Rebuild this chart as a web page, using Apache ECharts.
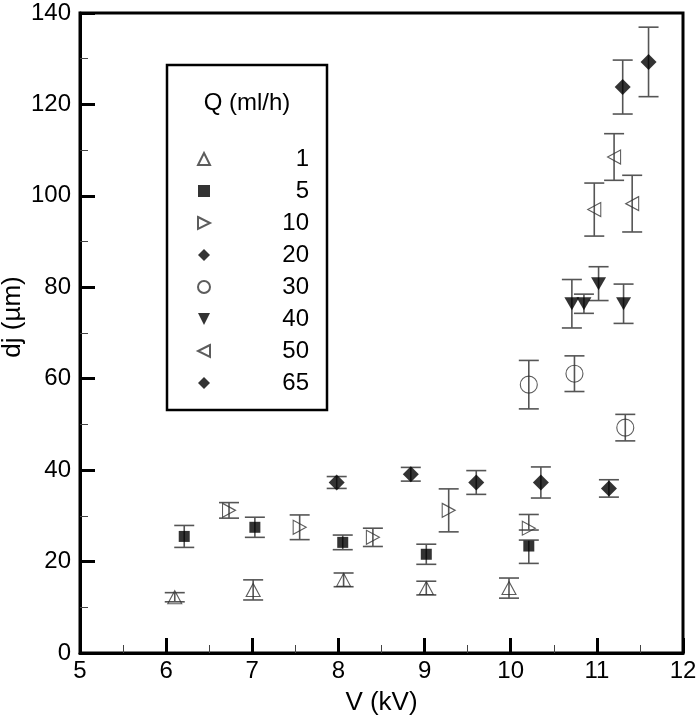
<!DOCTYPE html>
<html><head><meta charset="utf-8">
<script src="https://cdn.jsdelivr.net/npm/echarts@6/dist/echarts.min.js"></script>
<style>html,body{margin:0;padding:0;background:#fff}#c{width:700px;height:725px}</style>
</head><body><div id="c"></div>
<script>
// Q = 1 ml/h
const q1V = [6.10, 7.01, 8.06, 9.02, 9.98];
const q1D = [12.2, 13.8, 16.0, 14.2, 14.2];
const q1E = [1.0, 2.2, 1.5, 1.5, 2.2];
// Q = 5 ml/h
const q5V = [6.21, 7.03, 8.05, 9.02, 10.21];
const q5D = [25.5, 27.5, 24.2, 21.6, 23.4];
const q5E = [2.4, 2.2, 1.6, 2.2, [3.8, 1.3]];
// Q = 10 ml/h
const q10V = [6.73, 7.55, 8.40, 9.28, 10.21];
const q10D = [31.2, 27.5, 25.3, 31.2, 27.3];
const q10E = [1.7, 2.7, 2.0, 4.7, [0.4, 3.0]];
// Q = 20 ml/h
const q20V = [7.98, 8.84, 9.60, 10.35, 11.14];
const q20D = [37.3, 39.1, 37.3, 37.3, 36.0];
const q20E = [1.3, 1.5, 2.6, 3.4, 1.9];
// Q = 30 ml/h
const q30V = [10.21, 10.74, 11.33];
const q30D = [58.7, 61.1, 49.3];
const q30E = [5.3, 3.9, 2.9];
// Q = 40 ml/h
const q40V = [10.71, 10.85, 11.02, 11.31];
const q40D = [76.4, 76.4, 80.8, 76.4];
const q40E = [5.3, 2.1, 3.7, 4.3];
// Q = 50 ml/h
const q50V = [10.97, 11.20, 11.41];
const q50D = [97.0, 108.5, 98.3];
const q50E = [5.8, 5.1, 6.2];
// Q = 65 ml/h
const q65V = [11.30, 11.60];
const q65D = [123.8, 129.3];
const q65E = [5.9, 7.6];

const xTicks = [5, 6, 7, 8, 9, 10, 11, 12];
const yTicks = [0, 20, 40, 60, 80, 100, 120, 140];
const legendTitle = 'Q (ml/h)';
const xName = 'V (kV)';
const yName = 'dj (µm)';

const FONT = '"Liberation Sans", Arial, sans-serif';
const FS = 24;
const NFS = 26;
const TRI_UP = 'path://M5,0 L10,10 L0,10 Z';
const TRI_DOWN = 'path://M0,0 L10,0 L5,10 Z';
const TRI_RIGHT = 'path://M0,0 L10,5 L0,10 Z';
const TRI_LEFT = 'path://M10,0 L0,5 L10,10 Z';

const groups = [
  {name: '1',  v: q1V,  d: q1D,  e: q1E,  symbol: TRI_UP,    size: [14, 13], hollow: true},
  {name: '5',  v: q5V,  d: q5D,  e: q5E,  symbol: 'rect',    size: 11, hollow: false},
  {name: '10', v: q10V, d: q10D, e: q10E, symbol: TRI_RIGHT, size: [13, 14], hollow: true},
  {name: '20', v: q20V, d: q20D, e: q20E, symbol: 'diamond', size: 16, hollow: false},
  {name: '30', v: q30V, d: q30D, e: q30E, symbol: 'circle',  size: 17, hollow: true},
  {name: '40', v: q40V, d: q40D, e: q40E, symbol: TRI_DOWN,  size: [15, 13], hollow: false},
  {name: '50', v: q50V, d: q50D, e: q50E, symbol: TRI_LEFT,  size: [13, 14], hollow: true},
  {name: '65', v: q65V, d: q65D, e: q65E, symbol: 'diamond', size: 16, hollow: false}
];

const series = [];
groups.forEach(function (g) {
  const errData = g.v.map(function (x, i) {
    const e = g.e[i];
    const lo = Array.isArray(e) ? e[0] : e;
    const hi = Array.isArray(e) ? e[1] : e;
    return [x, g.d[i], g.d[i] - lo, g.d[i] + hi];
  });
  series.push({
    type: 'custom',
    name: g.name + '_err',
    z: 2,
    silent: true,
    data: errData,
    renderItem: function (params, api) {
      const x = api.value(0);
      const lo = api.coord([x, api.value(2)]);
      const hi = api.coord([x, api.value(3)]);
      const w = 10;
      const st = {stroke: '#555', lineWidth: 1.6};
      return {
        type: 'group',
        children: [
          {type: 'line', shape: {x1: lo[0], y1: lo[1], x2: hi[0], y2: hi[1]}, style: st},
          {type: 'line', shape: {x1: lo[0] - w, y1: lo[1], x2: lo[0] + w, y2: lo[1]}, style: st},
          {type: 'line', shape: {x1: hi[0] - w, y1: hi[1], x2: hi[0] + w, y2: hi[1]}, style: st}
        ]
      };
    }
  });
  series.push({
    type: 'scatter',
    name: g.name,
    z: 3,
    symbol: g.symbol,
    symbolSize: g.size,
    data: g.v.map(function (x, i) { return [x, g.d[i]]; }),
    itemStyle: g.hollow
      ? {color: 'rgba(255,255,255,0)', borderColor: '#333', borderWidth: 1.1}
      : {color: '#000', borderColor: '#000', borderWidth: 0},
    emphasis: {disabled: true}
  });
});

const chart = echarts.init(document.getElementById('c'), null, {renderer: 'canvas'});
chart.setOption({
  animation: false,
  backgroundColor: '#fff',
  textStyle: {fontFamily: FONT},
  grid: {left: 80, right: 17, top: 13, bottom: 72, show: true, borderColor: '#000', borderWidth: 3,
    containLabel: false, outerBoundsMode: 'none'},
  xAxis: {
    type: 'value', min: xTicks[0], max: xTicks[xTicks.length - 1], interval: 1,
    name: xName, nameLocation: 'middle', nameGap: 37, nameMoveOverlap: false,
    nameTextStyle: {fontSize: NFS, color: '#000', fontFamily: FONT},
    axisLine: {show: true, onZero: false, lineStyle: {color: '#000', width: 3}},
    axisTick: {show: true, inside: true, length: 15, lineStyle: {color: '#000', width: 3}},
    minorTick: {show: true, splitNumber: 2, length: 8, lineStyle: {color: '#444', width: 1}},
    splitLine: {show: false},
    axisLabel: {fontSize: FS, color: '#000', margin: 6, fontFamily: FONT,
      formatter: function (v) { return xTicks.indexOf(v) >= 0 ? String(v) : ''; }}
  },
  yAxis: {
    type: 'value', min: yTicks[0], max: yTicks[yTicks.length - 1], interval: 20,
    name: yName, nameLocation: 'middle', nameGap: 54, nameMoveOverlap: false,
    nameTextStyle: {fontSize: NFS, color: '#000', fontFamily: FONT, padding: [0, 0, 0, 32]},
    axisLine: {show: true, onZero: false, lineStyle: {color: '#000', width: 3}},
    axisTick: {show: true, inside: true, length: 15, lineStyle: {color: '#000', width: 3}},
    minorTick: {show: true, splitNumber: 2, length: 8, lineStyle: {color: '#444', width: 1}},
    splitLine: {show: false},
    axisLabel: {fontSize: FS, color: '#000', margin: 9, fontFamily: FONT,
      formatter: function (v) { return yTicks.indexOf(v) >= 0 ? String(v) : ''; }}
  },
  legend: {
    orient: 'vertical',
    left: 197, top: 147,
    itemWidth: 12, itemHeight: 12,
    itemGap: 8,
    padding: 0,
    selectedMode: false,
    data: groups.map(function (g) { return g.name; }),
    formatter: function (name) { return '{a|' + name + '}'; },
    textStyle: {
      color: '#000', fontSize: FS, fontFamily: FONT,
      rich: {a: {width: 94, align: 'right', fontSize: FS, fontFamily: FONT, color: '#000'}}
    }
  },
  graphic: [
    {type: 'rect', x: 167, y: 65, z: 10, silent: true,
      shape: {width: 160, height: 345}, style: {fill: 'none', stroke: '#000', lineWidth: 2.5}},
    {type: 'text', x: 247, y: 103, z: 10, silent: true,
      style: {text: legendTitle, fontSize: FS, fontFamily: FONT, fill: '#000', align: 'center', verticalAlign: 'middle'}}
  ],
  series: series
});
</script>
</body></html>
